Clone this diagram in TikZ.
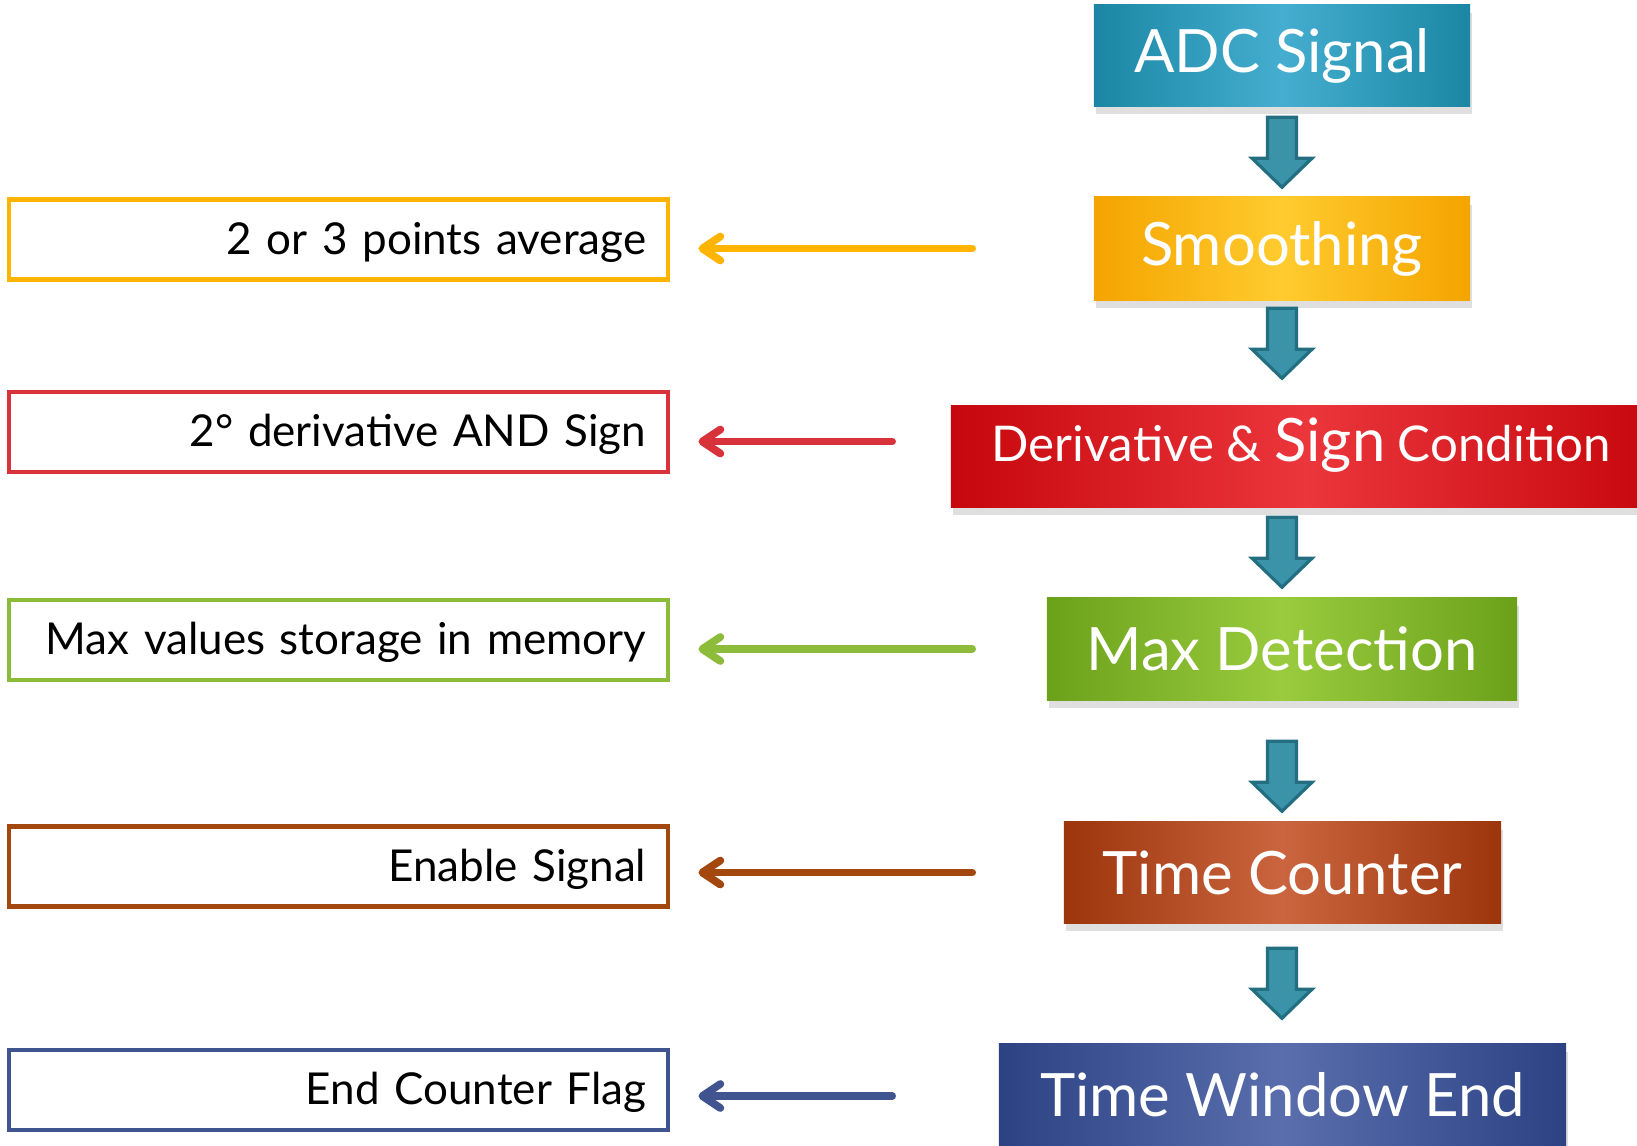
\documentclass[tikz,border=0pt]{standalone}
\usepackage{fontspec}
\setmainfont{Lato}
\usetikzlibrary{arrows.meta,shadows,calc}
\definecolor{adcdark}{HTML}{1B86A4}
\definecolor{adclight}{HTML}{45AED0}
\definecolor{smoothdark}{HTML}{F4A400}
\definecolor{smoothlight}{HTML}{FFCB2E}
\definecolor{derivdark}{HTML}{C6070D}
\definecolor{derivlight}{HTML}{EB363C}
\definecolor{maxdark}{HTML}{6BA11A}
\definecolor{maxlight}{HTML}{9ACB3E}
\definecolor{timedark}{HTML}{9C350C}
\definecolor{timelight}{HTML}{CB653F}
\definecolor{winddark}{HTML}{2C4283}
\definecolor{windlight}{HTML}{5A6EAD}
\definecolor{arrowfill}{HTML}{3A93A8}
\definecolor{arrowline}{HTML}{236E80}
\definecolor{yellowcol}{HTML}{FFB400}
\definecolor{redcol}{HTML}{D8323A}
\definecolor{greencol}{HTML}{8DBB3A}
\definecolor{browncol}{HTML}{A3470E}
\definecolor{bluecol}{HTML}{40558F}

\tikzset{
  stage/.style={rectangle, inner sep=0pt, text=white,
    left color=#1dark, right color=#1dark, middle color=#1light,
    font=\fontsize{17}{20}\selectfont,
    drop shadow={opacity=0.25, shadow xshift=0.2mm, shadow yshift=-0.8mm}},
  note/.style={rectangle, draw=#1, line width=1.3pt, fill=white,
    minimum height=0.8cm, text width=6.15cm, inner xsep=0.22cm, align=right,
    text height=11pt, text depth=2.5pt,
    font=\fontsize{12.5}{14}\selectfont},
  feed/.style={draw=#1, line width=2.2pt, line cap=round,
    -{Straight Barb[length=1.8mm, width=2.4mm, round]}},
  blockdown/.pic={
    \draw[arrowline, fill=arrowfill, line width=0.9pt, line join=miter]
      (-14.5,-70) -- (14.5,-70) -- (14.5,-29) -- (30,-29) -- (0,0)
      -- (-30,-29) -- (-14.5,-29) -- cycle;
  }
}

\begin{document}
\begin{tikzpicture}[x=0.01cm, y=-0.01cm]
\useasboundingbox (0,0) rectangle (1637,1145);

% === RIGHT COLUMN: processing stages ===
\node[stage=adc, minimum width=3.76cm, minimum height=1.01cm] (adc) at (1282,55.5) {ADC Signal};
\node[stage=smooth, minimum width=3.76cm, minimum height=1.03cm] (smooth) at (1282,248.5) {Smoothing};
\node[stage=deriv, minimum width=7.10cm, minimum height=1.01cm, font=\fontsize{14}{20}\selectfont] (deriv) at (1306,456.5)
  {\hspace*{-0.1cm}\raisebox{-1.5pt}[0pt][0pt]{Derivative \& {\fontsize{17}{20}\selectfont Sign} Condition}};
\node[stage=max, minimum width=4.70cm, minimum height=1.02cm] (max) at (1282,649) {Max Detection};
\node[stage=time, minimum width=4.37cm, minimum height=1.01cm] (tc) at (1282.5,872.5) {Time Counter};
\node[stage=wind, minimum width=5.67cm, minimum height=1.01cm] (twe) at (1282.5,1094.5) {Time Window End};

\pic at ($(smooth.north -| adc.south)+(0,-9)$) {blockdown};
\pic at ($(deriv.north -| adc.south)+(0,-27)$) {blockdown};
\pic at ($(max.north -| adc.south)+(0,-10)$) {blockdown};
\pic at ($(tc.north -| adc.south)+(0,-10)$) {blockdown};
\pic at ($(twe.north -| adc.south)+(0,-25)$) {blockdown};

% === LEFT COLUMN: what each stage does ===
\node[note=yellowcol] (avg) at (338.5,239.5) {2 or 3 points average};
\node[note=redcol] (ders) at (338.5,432) {2° derivative AND Sign};
\node[note=greencol] (mem) at (338.5,640) {Max values storage in memory};
\node[note=browncol] (ena) at (338.5,866.5) {Enable Signal};
\node[note=bluecol] (flag) at (338.5,1090) {End Counter Flag};

\draw[feed=yellowcol] ($(smooth.west)+(-121,0)$) -- ($(smooth.west -| avg.east)+(28,0)$);
\draw[feed=redcol] ($(deriv.west)+(-58,-15)$) -- ($(deriv.west -| ders.east)+(28,-15)$);
\draw[feed=greencol] ($(max.west)+(-74,0)$) -- ($(max.west -| mem.east)+(28,0)$);
\draw[feed=browncol] ($(tc.west)+(-91,0)$) -- ($(tc.west -| ena.east)+(28,0)$);
\draw[feed=bluecol] ($(twe.west)+(-106,1.5)$) -- ($(twe.west -| flag.east)+(28,1.5)$);

\end{tikzpicture}
\end{document}
